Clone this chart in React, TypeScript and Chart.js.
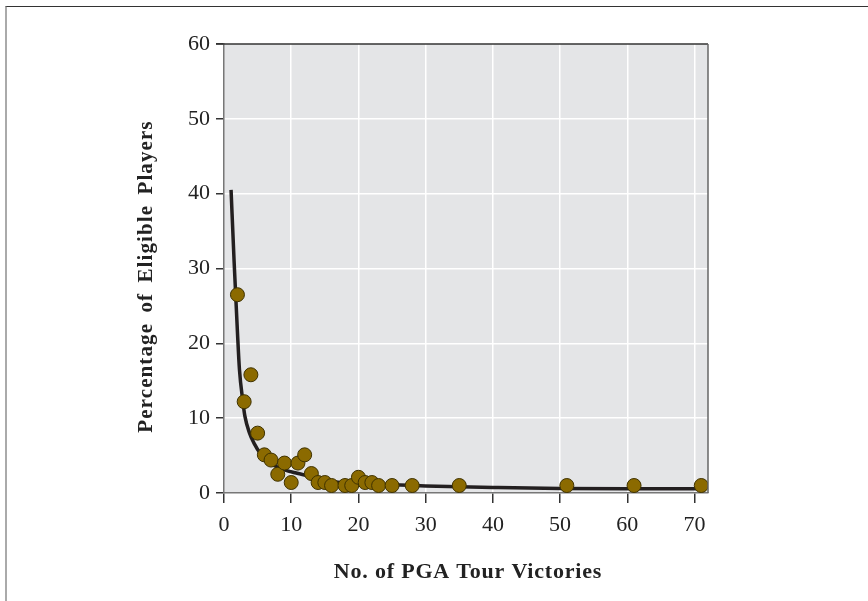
import React, { useEffect, useRef } from "react";
import { Chart, registerables } from "chart.js";

Chart.register(...registerables);

// Scatter points: PGA Tour victories vs percentage of eligible players
const victories = [2, 3, 4, 5, 6, 7, 8, 9, 10, 11, 12, 13, 14, 15, 16, 18, 19, 20, 21, 22, 23, 25, 28, 35, 51, 61, 71];
const percentages = [26.5, 12.2, 15.8, 8.0, 5.1, 4.4, 2.5, 4.0, 1.4, 4.0, 5.1, 2.6, 1.4, 1.4, 1.0, 1.0, 1.0, 2.1, 1.4, 1.4, 1.0, 1.0, 1.0, 1.0, 1.0, 1.0, 1.0];

// Fitted curve
const curveX = [1.05, 1.5, 2.0, 2.3, 2.8, 3.1, 3.8, 4.5, 5.4, 6.5, 7.6, 9, 10.6, 13, 16.3, 20, 25, 30, 40, 50, 60, 71];
const curveY = [40.5, 31, 21.5, 16.5, 12.3, 10.3, 8, 6.6, 5.3, 4.3, 3.6, 3.1, 2.7, 2.2, 1.5, 1.2, 1.1, 0.95, 0.75, 0.6, 0.57, 0.57];

const xTickValues = [0, 10, 20, 30, 40, 50, 60, 70];
const yTickValues = [0, 10, 20, 30, 40, 50, 60];

const xTitle = "No. of PGA Tour Victories";
const yTitle = "Percentage of Eligible Players";

const FONT = "'Liberation Serif', 'Times New Roman', serif";

const plotFrame = {
  id: "plotFrame",
  beforeDraw(chart: any) {
    const { ctx, chartArea: a } = chart;
    ctx.save();
    ctx.fillStyle = "#e4e5e7";
    ctx.fillRect(a.left, a.top, a.right - a.left, a.bottom - a.top);
    ctx.restore();
  },
  afterDraw(chart: any) {
    const { ctx, chartArea: a } = chart;
    ctx.save();
    ctx.strokeStyle = "#333";
    ctx.lineWidth = 1.5;
    ctx.beginPath();
    ctx.moveTo(a.left - 8, a.top);
    ctx.lineTo(a.right, a.top);
    ctx.stroke();
    ctx.strokeStyle = "#666";
    ctx.beginPath();
    ctx.moveTo(a.right, a.top);
    ctx.lineTo(a.right, a.bottom);
    ctx.stroke();
    ctx.restore();

    // axis titles (letter-spaced, like the original typesetting)
    ctx.save();
    ctx.fillStyle = "#222";
    ctx.textAlign = "center";
    ctx.textBaseline = "middle";
    ctx.font = `bold 21px ${FONT}`;
    (ctx as any).letterSpacing = "1.1px";
    (ctx as any).wordSpacing = "4px";
    ctx.translate(a.left - 77, (a.top + a.bottom) / 2 + 8);
    ctx.rotate(-Math.PI / 2);
    ctx.fillText(yTitle, 0, 0);
    ctx.restore();

    ctx.save();
    ctx.fillStyle = "#222";
    ctx.textAlign = "center";
    ctx.textBaseline = "middle";
    ctx.font = `bold 22px ${FONT}`;
    (ctx as any).letterSpacing = "0.8px";
    (ctx as any).wordSpacing = "0px";
    ctx.fillText(xTitle, (a.left + a.right) / 2 + 2, a.bottom + 79);
    ctx.restore();
  },
};

export default function App() {
  const ref = useRef<HTMLCanvasElement>(null);

  useEffect(() => {
    if (!ref.current) return;
    const chart = new Chart(ref.current, {
      type: "scatter",
      data: {
        datasets: [
          {
            label: "Players",
            data: victories.map((x, i) => ({ x, y: percentages[i] })),
            backgroundColor: "#8b6a00",
            borderColor: "#3f3200",
            borderWidth: 1,
            pointRadius: 7,
            order: 1,
          },
          {
            label: "Fit",
            data: curveX.map((x, i) => ({ x, y: curveY[i] })),
            showLine: true,
            borderColor: "#231f20",
            borderWidth: 3.5,
            pointRadius: 0,
            cubicInterpolationMode: "monotone",
            order: 2,
          } as any,
        ],
      },
      options: {
        animation: false,
        responsive: false,
        maintainAspectRatio: false,
        layout: { padding: { top: 44, right: 160, bottom: 0, left: 0 } },
        plugins: { legend: { display: false }, tooltip: { enabled: false } },
        scales: {
          x: {
            type: "linear",
            min: 0,
            max: 72,
            afterFit(scale: any) {
              scale.height = 108;
            },
            afterBuildTicks(scale: any) {
              scale.ticks = xTickValues.map((v) => ({ value: v }));
            },
            ticks: {
              autoSkip: false,
              maxRotation: 0,
              padding: 9,
              color: "#222",
              font: { family: FONT, size: 22 },
            },
            grid: {
              color: (c: any) => (c.tick && c.tick.value === 0 ? "rgba(0,0,0,0)" : "#ffffff"),
              lineWidth: 1.5,
              tickColor: "#333",
              tickLength: 10,
            },
            border: { display: true, color: "#777", width: 1.5 },
            title: { display: false },
          },
          y: {
            type: "linear",
            min: 0,
            max: 60,
            afterFit(scale: any) {
              scale.width = 224;
            },
            afterBuildTicks(scale: any) {
              scale.ticks = yTickValues.map((v) => ({ value: v }));
            },
            ticks: {
              padding: 6,
              color: "#222",
              font: { family: FONT, size: 22 },
            },
            grid: {
              color: (c: any) =>
                c.tick && (c.tick.value === 0 || c.tick.value === 60) ? "rgba(0,0,0,0)" : "#ffffff",
              lineWidth: 1.5,
              tickColor: "#333",
              tickLength: 8,
            },
            border: { display: true, color: "#777", width: 1.5 },
            title: { display: false },
          },
        },
      },
      plugins: [plotFrame],
    });
    return () => chart.destroy();
  }, []);

  return (
    <div style={{ position: "fixed", left: 0, top: 0, width: 868, height: 601, background: "#fff" }}>
      <div
        style={{
          position: "absolute",
          left: 5,
          top: 6,
          width: 863,
          height: 595,
          borderTop: "1.5px solid #333",
          borderLeft: "2px solid #aaa",
          boxSizing: "border-box",
        }}
      />
      <canvas ref={ref} width={868} height={601} style={{ position: "absolute", left: 0, top: 0, width: 868, height: 601 }} />
    </div>
  );
}
